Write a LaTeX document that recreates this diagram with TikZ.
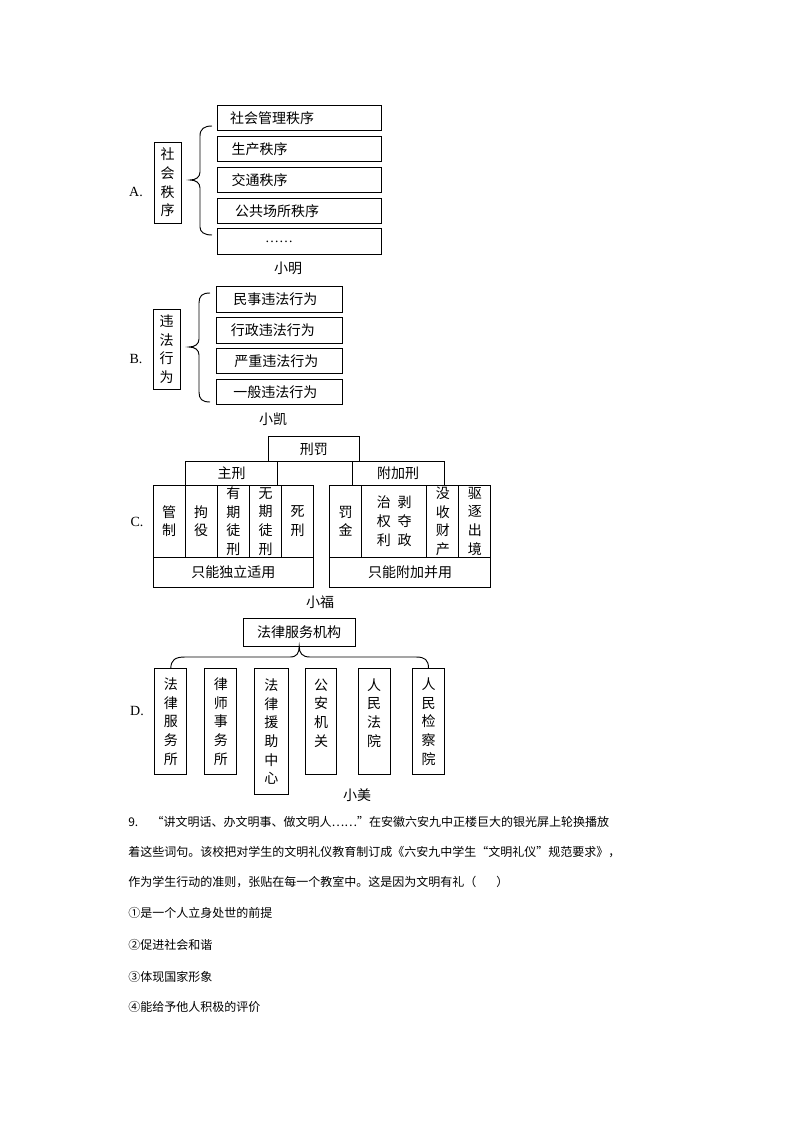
\documentclass[tikz,border=0pt]{standalone}
\usepackage{fontspec}
\setmainfont{Liberation Serif}
\newfontfamily\cjk{Noto Sans CJK SC}
\newcommand\openq[1]{\makebox[1em][r]{#1}}
\newcommand\closeq[1]{\makebox[1em][l]{#1}}
\usetikzlibrary{positioning}
\tikzset{
  box/.style={rectangle, draw=black, line width=0.7pt, inner sep=0pt,
    outer sep=0pt, align=center, font=\cjk\fontsize{10.5}{14}\selectfont},
  rowbox/.style={box, align=left, text width=#1, minimum height=19pt},
  cell/.style={box, minimum height=54.2pt},
  tag/.style={inner sep=0pt, font=\fontsize{10.5}{12}\selectfont},
  who/.style={inner sep=0pt, font=\cjk\fontsize{10.5}{12}\selectfont},
  para/.style={inner sep=0pt, anchor=west, font=\cjk\fontsize{9}{11}\selectfont},
  line/.style={draw=black, line width=0.7pt}
}
\begin{document}
\begin{tikzpicture}[x=0.75pt, y=-0.75pt]
  \useasboundingbox (0,0) rectangle (794,1123);

  % ── A: 小明 ───────────────────────────────────────────────────────────
  \node[tag] (la) at (136,192) {A.};
  \node[box, minimum width=20.25pt, minimum height=60.75pt] (a0) at (167.5,182.5)
       {社\\会\\秩\\序};
  \node[rowbox=123pt] (a1) at (299,118)   {\hspace*{9.75pt}社会管理秩序};
  \node[rowbox=123pt] (a2) at (299,149)   {\hspace*{11pt}生产秩序};
  \node[rowbox=123pt] (a3) at (299,180)   {\hspace*{11pt}交通秩序};
  \node[rowbox=123pt] (a4) at (299,211)   {\hspace*{13.5pt}公共场所秩序};
  \node[rowbox=123pt] (a5) at (299,241.5) {\hspace*{36pt}\rmfamily ……};
  \draw[line] (212,126) .. controls (204,126) and (200,129) .. (200,136) -- (200,172)
    .. controls (200,177) and (196,180) .. (190,180)
    .. controls (196,180) and (200,183) .. (200,188) -- (200,227)
    .. controls (200,232) and (204,235) .. (212,235);
  \node[who] (na) at (288,268) {小明};

  % ── B: 小凯 ───────────────────────────────────────────────────────────
  \node[tag] (lb) at (136,359) {B.};
  \node[box, minimum width=20pt, minimum height=60pt] (b0) at (166.7,349.3)
       {违\\法\\行\\为};
  \node[rowbox=94.5pt] (b1) at (279.7,299.5) {\hspace*{12.5pt}民事违法行为};
  \node[rowbox=94.5pt] (b2) at (279.7,330.3) {\hspace*{10.7pt}行政违法行为};
  \node[rowbox=94.5pt] (b3) at (279.7,361.2) {\hspace*{13.2pt}严重违法行为};
  \node[rowbox=94.5pt] (b4) at (279.7,392)   {\hspace*{12.5pt}一般违法行为};
  \draw[line] (210,293) .. controls (202,293) and (199,296) .. (199,303) -- (199,339)
    .. controls (199,344) and (195,347) .. (189,347)
    .. controls (195,347) and (199,350) .. (199,355) -- (199,392)
    .. controls (199,399) and (202,402) .. (210,402);
  \node[who] (nb) at (273,419) {小凯};

  % ── C: 小福 ───────────────────────────────────────────────────────────
  \node[tag] (lc) at (137,522) {C.};
  \node[box, minimum width=68.25pt, minimum height=18.75pt] (c0) at (313.8,449.2) {刑罚};
  \node[box, minimum width=69pt, minimum height=17.5pt] (cm) at (231.7,473.3) {主刑};
  \node[box, minimum width=68.75pt, minimum height=17.5pt] (ca) at (398.2,473.3) {附加刑};
  % main penalties
  \node[cell, minimum width=23.8pt] (c11) at (169.2,521.2) {管\\制};
  \node[cell, minimum width=24.2pt] (c12) at (201.2,521.2) {拘\\役};
  \node[cell, minimum width=24pt]   (c13) at (233.3,521.2) {有\\期\\徒\\刑};
  \node[cell, minimum width=24.3pt] (c14) at (265.5,521.2) {无\\期\\徒\\刑};
  \node[cell, minimum width=23.7pt] (c15) at (297.5,521.2) {死\\刑};
  \node[box, minimum width=120pt, minimum height=22.5pt] (cl) at (233.3,572.3) {只能独立适用};
  % supplementary penalties
  \node[cell, minimum width=24.3pt]  (c21) at (345.5,521.2) {罚\\金};
  \node[cell, minimum width=48.75pt] (c22) at (394.2,521.2)
       {治\hspace{5pt}剥\\权\hspace{5pt}夺\\利\hspace{5pt}政};
  \node[cell, minimum width=24.2pt]  (c23) at (442.8,521.2) {没\\收\\财\\产};
  \node[cell, minimum width=23.8pt]  (c24) at (474.8,521.2) {驱\\逐\\出\\境};
  \node[box, minimum width=121pt, minimum height=22.5pt] (cr) at (410,572.3) {只能附加并用};
  \node[who] (nc) at (320,602) {小福};

  % ── D: 小美 ───────────────────────────────────────────────────────────
  \node[tag] (ld) at (137,711) {D.};
  \node[box, minimum width=83.8pt, minimum height=20.8pt] (d0) at (299.2,632.2) {法律服务机构};
  \node[box, minimum width=23.8pt, minimum height=80pt] (d1) at (170.8,721.6) {法\\律\\服\\务\\所};
  \node[box, minimum width=23.8pt, minimum height=80pt] (d2) at (220.8,721.6) {律\\师\\事\\务\\所};
  \node[box, minimum width=25.5pt, minimum height=95pt] (d3) at (271.3,731.6) {法\\律\\援\\助\\中\\心};
  \node[box, minimum width=23.3pt, minimum height=80pt] (d4) at (321.2,721.6) {公\\安\\机\\关\\\mbox{}};
  \node[box, minimum width=23.8pt, minimum height=80pt] (d5) at (374.2,721.6) {人\\民\\法\\院\\\mbox{}};
  \node[box, minimum width=23.8pt, minimum height=80pt] (d6) at (428.5,721.6) {人\\民\\检\\察\\院};
  \draw[line] (d1.north) .. controls (171,660) and (175,657) .. (185,657) -- (290,657)
    .. controls (297,657) and (299.2,653) .. (d0.south)
    .. controls (299.2,653) and (302,657) .. (310,657) -- (416,657)
    .. controls (425,657) and (428.5,660) .. (d6.north);
  \node[who] (nd) at (357,795) {小美};

  % ── Question 9 ────────────────────────────────────────────────────────
  \node[para] (q1) at (128,821.7)
    {9.\hspace{10pt}\openq{“}讲文明话、办文明事、做文明人……\closeq{”}在安徽六安九中正楼巨大的银光屏上轮换播放};
  \node[para] (q2) at (128,851.7)
    {着这些词句。该校把对学生的文明礼仪教育制订成《六安九中学生\openq{“}文明礼仪\closeq{”}规范要求》，};
  \node[para] (q3) at (128,881.7)
    {作为学生行动的准则，张贴在每一个教室中。这是因为文明有礼（\hspace{15pt}）};
  \node[para] (o1) at (128,913.3) {①是一个人立身处世的前提};
  \node[para] (o2) at (128,945)   {②促进社会和谐};
  \node[para] (o3) at (128,976.7) {③体现国家形象};
  \node[para] (o4) at (128,1007.3) {④能给予他人积极的评价};

\end{tikzpicture}
\end{document}
